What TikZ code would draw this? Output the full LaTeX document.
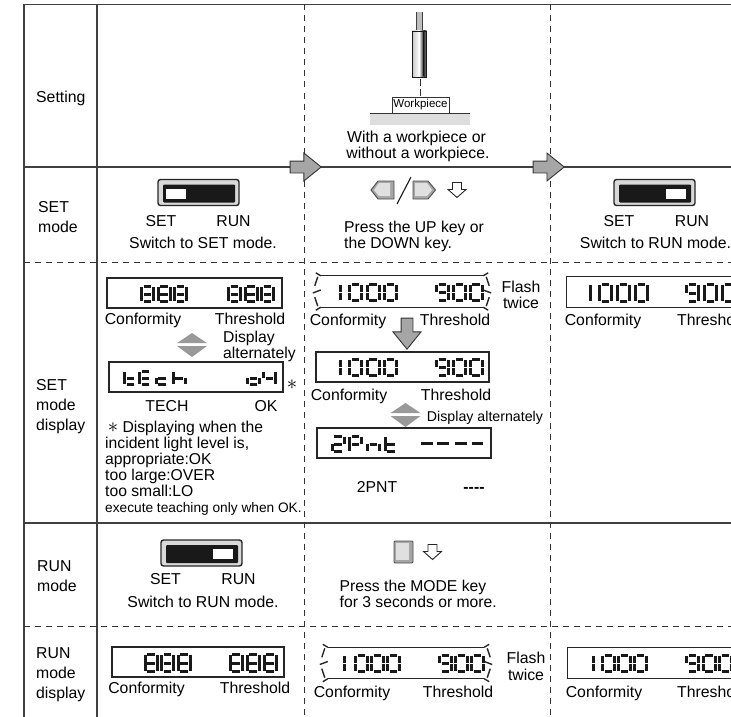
\documentclass[tikz,border=0pt]{standalone}
\usepackage{fontspec}
\setmainfont{Liberation Sans}
\usetikzlibrary{shapes.arrows}
\tikzset{
    tablerule/.style = {draw=black!75, line width=1.1pt},
    tabledash/.style = {draw=black!80, line width=1pt, dash pattern=on 6pt off 5pt},
    lab/.style = {inner sep=0pt, font=\fontsize{15.8}{19}\selectfont, text height=11pt, text depth=0pt},
    rowlab/.style = {inner sep=0pt, font=\fontsize{15.8}{20}\selectfont, align=left},
    notelab/.style = {inner sep=0pt, font=\fontsize{15.7}{16}\selectfont, align=left},
    lcdbox/.style = {draw=black!85, line width=1.3pt, inner sep=0pt},
    lcdflash/.style = {inner sep=0pt},
    lcdseg/.style = {draw=black!90, line width=3pt, shorten >=0.4pt, shorten <=0.4pt},
    lcdtick/.style = {black!85, line width=1.4pt},
    bigarrow/.style = {single arrow, draw=black!80, fill=black!35, line width=0.9pt, inner sep=5.5pt,
        minimum height=31pt, minimum width=27pt, single arrow head extend=8pt, single arrow tip angle=78},
    altmark/.style = {fill=black!40},
    keyshade/.style = {draw=black!70, line width=0.9pt, fill=black!35},
    keyface/.style = {fill=black!12}
}
\def\glzero{ah/bh,b/d,d/f,fh/eh,e/c,c/a}
\def\glone{b/d,d/f}
\def\gleight{ah/bh,b/d,d/f,fh/eh,e/c,c/a,ch/dh}
\def\glnine{ah/bh,b/d,d/f,fh/eh,a/c,ch/dh}
\def\gltwo{ah/bh,b/d,ch/dh,c/e,eh/fh}
\def\glpee{ah/bh,b/d,ch/dh,a/c,c/e}
\def\glen{ch/dh,d/f,c/e}
\def\glte{a/c,c/e,ch/dh,eh/fh}
\def\glee{ah/bh,a/c,c/e,ch/dh,eh/fh}
\def\glce{ch/dh,c/e,eh/fh}
\def\glha{a/c,c/e,ch/dh,d/f}
\def\gloh{ch/dh,d/f,fh/eh,e/c}
\def\glwye{a/c,b/d,ch/dh,d/f}
\def\gldash{c/d}
\newcommand{\lcdword}[3]{
    \pgfmathsetmacro{\gh}{#2-3}
    \foreach \g/\gx in {#3} {
        \edef\seglist{\csname gl\g\endcsname}
        \begin{scope}[shift={(\gx,#1+1.5)}, x=12pt, y=-\gh pt]
            \foreach \n/\u/\v in {a/0/0,b/1/0,c/0/0.5,d/1/0.5,e/0/1,f/1/1,ah/0.15/0,bh/0.85/0,ch/0.15/0.5,dh/0.85/0.5,eh/0.15/1,fh/0.85/1}
                \coordinate (\n) at (\u,\v);
            \foreach \p/\q in \seglist
                \draw[lcdseg] (\p) -- (\q);
        \end{scope}
    }
}
\newcommand{\flashmarks}[1]{
    \draw[lcdbox] ([xshift=5pt]#1.north west) -- ([xshift=-5pt]#1.north east);
    \draw[lcdbox] ([xshift=5pt]#1.south west) -- ([xshift=-5pt]#1.south east);
    \draw[lcdtick] (#1.north west) ++(0,-3) -- ++(5,3);
    \draw[lcdtick] (#1.north east) ++(0,-3) -- ++(-5,3);
    \draw[lcdtick] (#1.south west) ++(0,3) -- ++(5,-3);
    \draw[lcdtick] (#1.south east) ++(0,3) -- ++(-5,-3);
    \draw[lcdtick] (#1.north west) ++(2,1) -- ++(-3,9);
    \draw[lcdtick] (#1.north east) ++(-2,1) -- ++(3,9);
    \draw[lcdtick] (#1.south west) ++(2,-1) -- ++(-3,-9);
    \draw[lcdtick] (#1.south east) ++(-2,-1) -- ++(3,-9);
    \draw[lcdtick] (#1.west) ++(-3,1.5) -- ++(8,-3);
    \draw[lcdtick] (#1.east) ++(3,1.5) -- ++(-8,-3);
}
\newcommand{\modeswitch}[3]{
    \draw[draw=black!85, fill=black!15, line width=1.4pt, rounded corners=2.5pt] (#1,#2) rectangle ++(81,26);
    \fill[black!90, rounded corners=1pt] (#1,#2) ++(5,5) rectangle ++(72,18);
    \fill[white] (#1,#2) ++(#3,9) rectangle ++(20,10);
}
\newcommand{\twotri}[2]{
    \path[altmark] (#1,#2) ++(-15,10) -- ++(15,-10) -- ++(15,10) -- cycle;
    \path[altmark] (#1,#2) ++(-15,13) -- ++(30,0) -- ++(-15,11) -- cycle;
}
\newcommand{\keyarrow}[2]{
    \draw[black!85, line width=0.9pt, fill=white, line join=miter] (#1,#2) ++(-4.5,0) -- ++(9,0) -- ++(0,7)
        -- ++(4.5,0) -- ++(-9,8) -- ++(-9,-8) -- ++(4.5,0) -- cycle;
}
\begin{document}
\begin{tikzpicture}[x=1pt, y=-1pt]
    \useasboundingbox (0,0) rectangle (731,717);
    \clip (0,0) rectangle (731,717);

    \draw[tablerule] (24,4.5) -- (731,4.5);
    \draw[tablerule] (24,167) -- (731,167);
    \draw[tablerule] (24,523) -- (731,523);
    \draw[tabledash] (24,262.5) -- (731,262.5);
    \draw[tabledash] (24,626) -- (731,626);
    \draw[tablerule] (24,4.5) -- (24,717);
    \draw[tablerule] (97,4.5) -- (97,717);
    \draw[tabledash] (304,4.5) -- (304,717);
    \draw[tabledash] (550,4.5) -- (550,717);

    \node[bigarrow] (nextA) at (302,167) {};
    \node[bigarrow] (nextB) at (545,167) {};

    \node[lab, anchor=west] (settingLab) at (36,97) {Setting};
    \node[rowlab, anchor=west] (setmodeLab) at (38,217) {SET\\mode};
    \node[rowlab, anchor=west] (setdispLab) at (36,407) {SET\\mode\\display};
    \node[rowlab, anchor=west] (runmodeLab) at (37,576.5) {RUN\\mode};
    \node[rowlab, anchor=west] (rundispLab) at (36,674.5) {RUN\\mode\\display};

    \fill[black!25] (416.7,12) rectangle (422,31);
    \draw[black!75, line width=0.8pt] (416.7,12) -- (416.7,31) (422,12) -- (422,31);
    \path[left color=black!20, right color=white] (412.7,31) rectangle (419,77);
    \path[left color=white, right color=black!85] (419,31) rectangle (423.5,77);
    \path[left color=black!85, right color=black!40] (423.5,31) rectangle (426.7,77);
    \draw[black!90, line width=0.9pt] (412.7,31) rectangle (426.7,77);
    \draw[black!80, line width=0.8pt, dash pattern=on 7pt off 3pt] (420.7,79) -- (420.7,97);
    \fill[black!13] (370,113) rectangle (470,125);
    \draw[black!80, line width=0.8pt] (370,113) -- (470,113);
    \node[draw=black!80, line width=0.7pt, inner sep=0pt, minimum width=57pt, minimum height=16pt,
        font=\fontsize{11.5}{12}\selectfont] (workBox) at (420.5,105) {Workpiece};
    \node[lab] (withLab) at (416.5,137) {With a workpiece or};
    \node[lab] (withoutLab) at (418,153) {without a workpiece.};

    \modeswitch{158}{179.5}{8}
    \node[lab] (setA) at (161,221) {SET};
    \node[lab] (runA) at (233.5,221) {RUN};
    \node[lab] (swA) at (203,243) {Switch to SET mode.};

    \draw[keyshade] (394,181) -- (378,181) -- (371,190) -- (378,199) -- (394,199) -- cycle;
    \path[keyface] (390,183) -- (379,183) -- (374,190) -- (379,196) -- (390,196) -- cycle;
    \draw[black!90, line width=1.1pt] (397,204) -- (411,177);
    \draw[keyshade] (413,181) -- (428,181) -- (435.5,190) -- (428,199) -- (413,199) -- cycle;
    \path[keyface] (415,183) -- (427,183) -- (432,190) -- (427,196) -- (415,196) -- cycle;
    \keyarrow{457}{182.5}
    \node[notelab, anchor=west] (pressLab) at (344,236.5) {Press the UP key or\\the DOWN key.};

    \modeswitch{614}{179.5}{52}
    \node[lab] (setB) at (619,221) {SET};
    \node[lab] (runB) at (692,221) {RUN};
    \node[lab] (swB) at (655.5,243) {Switch to RUN mode.};

    \node[lcdbox, minimum width=175pt, minimum height=30pt] (dispA) at (194.5,293) {};
    \lcdword{285}{18}{eight/141.5,eight/158,eight/174.5,eight/228.5,eight/245,eight/261.5}
    \node[lab] (confA) at (143,319) {Conformity};
    \node[lab] (threshA) at (250,319) {Threshold};
    \twotri{192}{333}
    \node[rowlab, anchor=west, font=\fontsize{15.7}{16}\selectfont] (altA) at (223,346) {Display\\alternately};
    \node[lcdbox, minimum width=174pt, minimum height=30pt] (dispB) at (196,377) {};
    \lcdword{370}{16}{te/124.5,ee/139.5,ce/156,ha/173,oh/247.5,wye/263.5}
    \node[inner sep=0pt, font=\fontsize{20}{20}\selectfont] (starA) at (292,385) {$\ast$};
    \node[lab] (techLab) at (167,406) {TECH};
    \node[lab] (okLab) at (266,406) {OK};
    \node[notelab, anchor=north west] (noteA) at (105,421) {\,{\fontsize{20}{16}\selectfont$\ast$} Displaying when the\\incident light level is,\\appropriate:OK\\too large:OVER\\too small:LO\\{\fontsize{13.7}{16}\selectfont execute teaching only when OK.}};

    \node[lcdflash, minimum width=172pt, minimum height=31pt] (dispC) at (402,291.5) {};
    \flashmarks{dispC}
    \lcdword{283}{19}{one/328.7,zero/349.5,zero/367,zero/384.5,nine/436.5,zero/453.5,zero/470}
    \node[lab] (flashC) at (521,287) {Flash};
    \node[lab] (twiceC) at (521,303) {twice};
    \node[lab] (confC) at (348,320) {Conformity};
    \node[lab] (threshC) at (455,320) {Threshold};
    \node[bigarrow, shape border rotate=270] (nextC) at (407,330) {};
    \node[lcdbox, minimum width=173pt, minimum height=30pt] (dispD) at (402.5,367) {};
    \lcdword{358}{19}{one/328.7,zero/349.5,zero/367,zero/384.5,nine/436.5,zero/453.5,zero/470}
    \node[lab] (confD) at (349,395) {Conformity};
    \node[lab] (threshD) at (456,395) {Threshold};
    \twotri{405.5}{403}
    \node[lab, font=\fontsize{14.2}{16}\selectfont] (altD) at (485,416) {Display alternately};
    \node[lcdbox, minimum width=174pt, minimum height=30pt] (dispE) at (404,443) {};
    \lcdword{435}{18}{two/332,pee/349.5,en/367.5,te/385}
    \lcdword{434.5}{18}{dash/421,dash/437,dash/455,dash/471.5}
    \node[lab] (pntLab) at (377,487) {2PNT};
    \node[lab] (dashLab) at (474,487) {\textbf{-{}-{}-{}-}};

    \node[lcdbox, minimum width=175pt, minimum height=31pt, anchor=north west] (dispF) at (566,276) {};
    \lcdword{283}{20}{one/578,zero/599.5,zero/617.5,zero/635.5,nine/686.5,zero/704.5,zero/722.5}
    \node[lab] (confF) at (603,320) {Conformity};
    \node[lab, anchor=west] (threshF) at (677,320) {Threshold};

    \modeswitch{161}{540}{52}
    \node[lab] (setC) at (165.5,579) {SET};
    \node[lab] (runC) at (238.5,579) {RUN};
    \node[lab] (swC) at (203,602) {Switch to RUN mode.};
    \draw[keyshade, rounded corners=1pt] (394,541) rectangle (413,563);
    \path[keyface] (396,543) rectangle (409,560);
    \keyarrow{432.5}{544.5}
    \node[notelab, anchor=west] (pressB) at (339.5,594) {Press the MODE key\\for 3 seconds or more.};

    \node[lcdbox, minimum width=172pt, minimum height=30pt] (dispG) at (198,662) {};
    \lcdword{653}{20}{eight/145,eight/161.5,eight/178,eight/230,eight/247,eight/264}
    \node[lab] (confG) at (146.5,688) {Conformity};
    \node[lab] (threshG) at (255,688) {Threshold};

    \node[lcdflash, minimum width=166pt, minimum height=31pt] (dispH) at (406,663) {};
    \flashmarks{dispH}
    \lcdword{654}{19}{one/332,zero/355.5,zero/371.5,zero/387.5,nine/439.5,zero/455.5,zero/471.5}
    \node[lab] (flashH) at (526,658) {Flash};
    \node[lab] (twiceH) at (526,675) {twice};
    \node[lab] (confH) at (352,692) {Conformity};
    \node[lab] (threshH) at (458,692) {Threshold};

    \node[lcdbox, minimum width=175pt, minimum height=31pt, anchor=north west] (dispJ) at (567,647) {};
    \lcdword{654}{19}{one/581,zero/602.5,zero/618.5,zero/634.5,nine/686.5,zero/703,zero/719.5}
    \node[lab] (confJ) at (604,692) {Conformity};
    \node[lab, anchor=west] (threshJ) at (677,692) {Threshold};
\end{tikzpicture}
\end{document}
